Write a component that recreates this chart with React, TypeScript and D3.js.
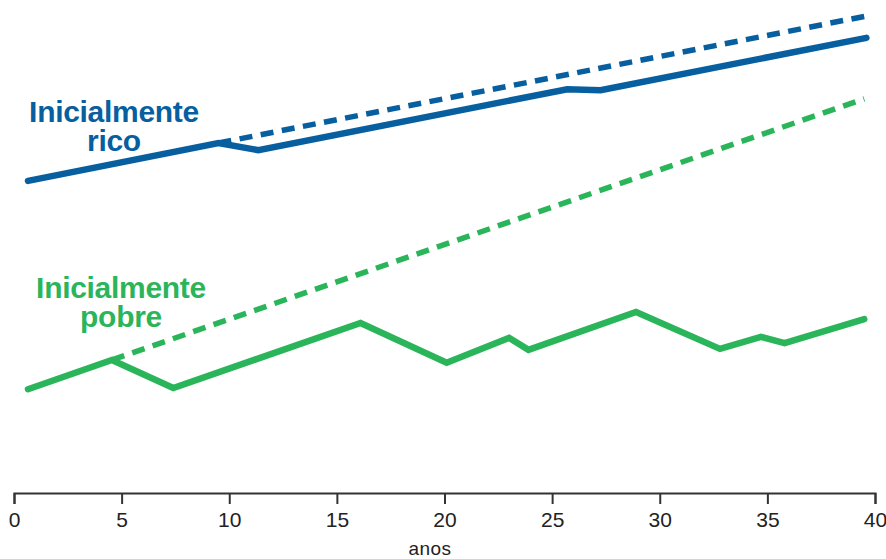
import React, { useEffect, useRef } from "react";
import * as d3 from "d3";

const W = 886;
const H = 559;

const xTicks = [0, 5, 10, 15, 20, 25, 30, 35, 40];
const xLabel = "anos";

const richYears = [0.65, 9.5, 11.35, 25.7, 27.25, 39.6];
const richValues = [64.4, 72.3, 70.8, 83.5, 83.3, 94.2];
const richTrendYears = [9.5, 39.6];
const richTrendValues = [72.3, 98.75];

const poorYears = [0.65, 4.55, 7.4, 16.1, 20.1, 23.0, 23.9, 28.9, 32.8, 34.7, 35.8, 39.5];
const poorValues = [21.0, 27.1, 21.25, 34.8, 26.5, 31.7, 29.2, 37.1, 29.4, 31.9, 30.6, 35.6];
const poorTrendYears = [4.55, 39.5];
const poorTrendValues = [27.1, 81.5];

const richLabel = ["Inicialmente", "rico"];
const poorLabel = ["Inicialmente", "pobre"];

const BLUE = "#075f9f";
const GREEN = "#2bb55b";

export default function App() {
  const ref = useRef<SVGSVGElement>(null);

  useEffect(() => {
    const svg = d3.select(ref.current);
    svg.selectAll("*").remove();

    const x = d3.scaleLinear().domain([0, 40]).range([14, 875]);
    const y = d3.scaleLinear().domain([0, 100]).range([490, 10]);

    const line = d3
      .line<[number, number]>()
      .x((d) => x(d[0]))
      .y((d) => y(d[1]));

    const zip = (a: number[], b: number[]) => a.map((v, i) => [v, b[i]] as [number, number]);

    // axis
    const axis = d3
      .axisBottom(x)
      .tickValues(xTicks)
      .tickSize(11)
      .tickSizeOuter(11)
      .tickPadding(8)
      .tickFormat((d) => String(d));
    const g = svg.append("g").attr("transform", "translate(0,493)").call(axis);
    g.select(".domain").attr("stroke", "#333").attr("stroke-width", 2);
    g.selectAll(".tick line").attr("stroke", "#333").attr("stroke-width", 2);
    g.selectAll(".tick text")
      .attr("fill", "#222")
      .attr("font-family", "'Liberation Sans', Arial, sans-serif")
      .attr("font-size", 21);

    svg
      .append("text")
      .attr("x", 430)
      .attr("y", 555)
      .attr("text-anchor", "middle")
      .attr("font-family", "'Liberation Sans', Arial, sans-serif")
      .attr("font-size", 19)
      .attr("letter-spacing", 0.5)
      .attr("fill", "#222")
      .text(xLabel);

    // dashed trends
    svg
      .append("path")
      .attr("d", line(zip(richTrendYears, richTrendValues)))
      .attr("fill", "none")
      .attr("stroke", BLUE)
      .attr("stroke-width", 5.5)
      .attr("stroke-dasharray", "13 8.5");
    svg
      .append("path")
      .attr("d", line(zip(poorTrendYears, poorTrendValues)))
      .attr("fill", "none")
      .attr("stroke", GREEN)
      .attr("stroke-width", 5.5)
      .attr("stroke-dasharray", "13 8.5");

    // solid lines
    svg
      .append("path")
      .attr("d", line(zip(richYears, richValues)))
      .attr("fill", "none")
      .attr("stroke", BLUE)
      .attr("stroke-width", 6.5)
      .attr("stroke-linecap", "round")
      .attr("stroke-linejoin", "miter");
    svg
      .append("path")
      .attr("d", line(zip(poorYears, poorValues)))
      .attr("fill", "none")
      .attr("stroke", GREEN)
      .attr("stroke-width", 6.5)
      .attr("stroke-linecap", "round")
      .attr("stroke-linejoin", "miter");

    const addLabel = (lines: string[], cx: number, y0: number, color: string) => {
      lines.forEach((s, i) => {
        svg
          .append("text")
          .attr("text-anchor", "middle")
          .attr("font-family", "'Liberation Sans', Arial, sans-serif")
          .attr("font-weight", "bold")
          .attr("font-size", 30)
          .attr("letter-spacing", -0.3)
          .attr("fill", color)
          .attr("x", cx)
          .attr("y", y0 + i * 28.5)
          .text(s);
      });
    };
    addLabel(richLabel, 114, 122, BLUE);
    addLabel(poorLabel, 121, 298, GREEN);
  }, []);

  return (
    <svg
      ref={ref}
      width={W}
      height={H}
      style={{ position: "absolute", left: 0, top: 0, background: "#fff" }}
    />
  );
}
